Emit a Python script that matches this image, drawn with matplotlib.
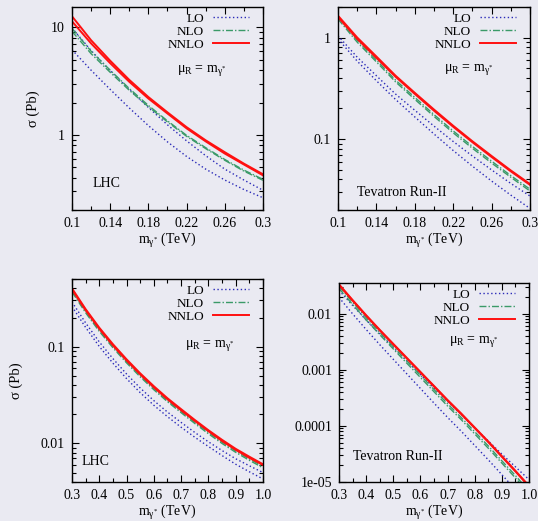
import matplotlib
matplotlib.use('Agg')
import matplotlib.pyplot as plt
from matplotlib.ticker import FixedLocator, FixedFormatter, LogLocator, NullFormatter, MultipleLocator

# Data
x_low = [0.10, 0.12, 0.14, 0.16, 0.18, 0.20, 0.22, 0.24, 0.26, 0.28, 0.30]
x_high = [0.30, 0.35, 0.40, 0.45, 0.50, 0.55, 0.60, 0.65, 0.70, 0.75, 0.80, 0.85, 0.90, 0.95, 1.00]

# LHC, low mass
lhc1_lo_a = [9.9, 6.1, 3.95, 2.65, 1.8, 1.24, 0.88, 0.64, 0.48, 0.38, 0.305]
lhc1_lo_b = [6.2, 4.0, 2.65, 1.78, 1.22, 0.86, 0.63, 0.48, 0.38, 0.31, 0.26]
lhc1_nlo_a = [9.8, 6.0, 4.0, 2.7, 1.88, 1.35, 0.99, 0.76, 0.59, 0.47, 0.385]
lhc1_nlo_b = [9.2, 5.7, 3.82, 2.6, 1.83, 1.32, 0.97, 0.745, 0.58, 0.46, 0.378]
lhc1_nnlo_a = [12.7, 7.6, 4.9, 3.25, 2.25, 1.62, 1.18, 0.89, 0.69, 0.54, 0.43]
lhc1_nnlo_b = [11.4, 7.1, 4.65, 3.12, 2.18, 1.58, 1.15, 0.87, 0.67, 0.53, 0.42]

# Tevatron, low mass
tev1_lo_a = [1.04, 0.64, 0.42, 0.277, 0.192, 0.134, 0.0945, 0.068, 0.0496, 0.0365, 0.0274]
tev1_lo_b = [0.97, 0.585, 0.375, 0.245, 0.165, 0.112, 0.077, 0.054, 0.0385, 0.028, 0.0207]
tev1_nlo_a = [1.58, 0.94, 0.60, 0.38, 0.257, 0.174, 0.12, 0.0845, 0.0605, 0.0436, 0.032]
tev1_nlo_b = [1.52, 0.90, 0.575, 0.365, 0.246, 0.167, 0.115, 0.081, 0.058, 0.042, 0.0307]
tev1_nnlo_a = [1.64, 1.0, 0.65, 0.42, 0.285, 0.195, 0.135, 0.095, 0.068, 0.049, 0.036]
tev1_nnlo_b = [1.59, 0.97, 0.63, 0.41, 0.278, 0.19, 0.132, 0.093, 0.0665, 0.048, 0.0353]

# LHC, high mass
lhc2_lo_a = [0.29, 0.176, 0.112, 0.0753, 0.0522, 0.0374, 0.0277, 0.0211, 0.0165, 0.013, 0.0104, 0.00845, 0.00695, 0.00588, 0.005]
lhc2_lo_b = [0.26, 0.158, 0.1005, 0.0675, 0.0468, 0.0335, 0.0248, 0.0189, 0.0147, 0.0116, 0.0093, 0.0075, 0.0061, 0.0051, 0.0043]
lhc2_nlo_a = [0.38, 0.232, 0.149, 0.1007, 0.0703, 0.0504, 0.0371, 0.0278, 0.0215, 0.0166, 0.013, 0.01035, 0.00836, 0.00694, 0.0058]
lhc2_nlo_b = [0.368, 0.224, 0.144, 0.0975, 0.068, 0.0488, 0.0359, 0.027, 0.0208, 0.0161, 0.0126, 0.01, 0.0081, 0.0067, 0.0056]
lhc2_nnlo_a = [0.40, 0.244, 0.157, 0.106, 0.074, 0.053, 0.039, 0.0293, 0.0226, 0.0175, 0.0137, 0.0109, 0.0088, 0.0073, 0.0061]
lhc2_nnlo_b = [0.39, 0.238, 0.153, 0.103, 0.072, 0.0517, 0.038, 0.0286, 0.022, 0.0171, 0.0134, 0.0106, 0.0086, 0.0071, 0.006]

# Tevatron, high mass
tev2_lo_a = [0.0259, 0.01396, 0.00767, 0.00432, 0.00248, 0.00143, 8.22e-4, 4.73e-4, 2.72e-4, 1.60e-4, 9.2e-5, 5.37e-5, 3.13e-5, 1.86e-5, 1.10e-5]
tev2_lo_b = [0.0193, 0.00989, 0.00519, 0.00279, 0.00153, 8.41e-4, 4.62e-4, 2.54e-4, 1.41e-4, 8.04e-5, 4.47e-5, 2.48e-5, 1.35e-5, 7.3e-6, 3.9e-6]
tev2_nlo_a = [0.0305, 0.0159, 0.00845, 0.0046, 0.00256, 0.00143, 7.96e-4, 4.44e-4, 2.47e-4, 1.41e-4, 7.85e-5, 4.38e-5, 2.38e-5, 1.30e-5, 6.9e-6]
tev2_nlo_b = [0.0279, 0.0145, 0.0077, 0.0042, 0.00234, 0.0013, 7.26e-4, 4.05e-4, 2.25e-4, 1.29e-4, 7.16e-5, 3.99e-5, 2.17e-5, 1.18e-5, 6.3e-6]
tev2_nnlo_a = [0.0331, 0.0174, 0.00933, 0.00513, 0.00288, 0.00162, 9.12e-4, 5.13e-4, 2.88e-4, 1.66e-4, 9.33e-5, 5.25e-5, 2.88e-5, 1.58e-5, 8.5e-6]
tev2_nnlo_b = [0.0323, 0.017, 0.00912, 0.00501, 0.00281, 0.00158, 8.91e-4, 5.01e-4, 2.81e-4, 1.62e-4, 9.1e-5, 5.13e-5, 2.81e-5, 1.54e-5, 8.3e-6]

low_xticks = [0.1, 0.14, 0.18, 0.22, 0.26, 0.3]
low_xlabels = ['0.1', '0.14', '0.18', '0.22', '0.26', '0.3']
high_xticks = [0.3, 0.4, 0.5, 0.6, 0.7, 0.8, 0.9, 1.0]
high_xlabels = ['0.3', '0.4', '0.5', '0.6', '0.7', '0.8', '0.9', '1.0']

bg = '#eaeaf2'
c_lo = '#2a2ab8'
c_nlo = '#3a9a68'
c_nnlo = '#ff1010'

plt.rcParams['font.family'] = 'Liberation Serif'
plt.rcParams['font.size'] = 10
plt.rcParams['mathtext.fontset'] = 'custom'
plt.rcParams['mathtext.rm'] = 'Liberation Serif'
plt.rcParams['mathtext.it'] = 'Liberation Serif:italic'

fig = plt.figure(figsize=(5.38, 5.21), dpi=100, facecolor=bg)

panels = [
    # rect, x, curves, ylim, yticks, ylabels, xticks, xlabels, minor x, site, site pos, mu pos, ylabel pad
    ([0.1338, 0.597, 0.355, 0.3896], x_low,
     (lhc1_lo_a, lhc1_lo_b, lhc1_nlo_a, lhc1_nlo_b, lhc1_nnlo_a, lhc1_nnlo_b),
     (0.2, 15.5), [1, 10], ['1', '10'], low_xticks, low_xlabels, 0.02,
     'LHC', (0.105, 0.115), (0.55, 0.68), 8),
    ([0.6283, 0.597, 0.3569, 0.3896], x_low,
     (tev1_lo_a, tev1_lo_b, tev1_nlo_a, tev1_nlo_b, tev1_nnlo_a, tev1_nnlo_b),
     (0.02, 2.0), [0.1, 1], ['0.1', '1'], low_xticks, low_xlabels, 0.02,
     'Tevatron Run-II', (0.10, 0.068), (0.55, 0.685), None),
    ([0.1338, 0.0749, 0.355, 0.3896], x_high,
     (lhc2_lo_a, lhc2_lo_b, lhc2_nlo_a, lhc2_nlo_b, lhc2_nnlo_a, lhc2_nnlo_b),
     (0.004, 0.5), [0.01, 0.1], ['0.01', '0.1'], high_xticks, high_xlabels, 0.05,
     'LHC', (0.05, 0.082), (0.59, 0.665), 13),
    ([0.6301, 0.0749, 0.3532, 0.382], x_high,
     (tev2_lo_a, tev2_lo_b, tev2_nlo_a, tev2_nlo_b, tev2_nnlo_a, tev2_nnlo_b),
     (1e-5, 0.035), [1e-5, 1e-4, 1e-3, 1e-2], ['1e-05', '0.0001', '0.001', '0.01'],
     high_xticks, high_xlabels, 0.05,
     'Tevatron Run-II', (0.075, 0.11), (0.58, 0.70), None),
]

for (rect, xs, curves, ylim, yt, yl, xt, xl, xminor, site, site_pos, mu_pos, ypad) in panels:
    ax = fig.add_axes(rect)
    ax.set_facecolor(bg)
    lo_a, lo_b, nlo_a, nlo_b, nnlo_a, nnlo_b = curves
    ax.plot(xs, lo_a, color=c_lo, lw=1.0, ls=(0, (1, 1.8)), label='LO')
    ax.plot(xs, lo_b, color=c_lo, lw=1.0, ls=(0, (1, 1.8)))
    ax.plot(xs, nlo_a, color=c_nlo, lw=1.0, ls=(0, (5, 1.5, 1, 1.5)), label='NLO')
    ax.plot(xs, nlo_b, color=c_nlo, lw=1.0, ls=(0, (5, 1.5, 1, 1.5)))
    ax.plot(xs, nnlo_a, color=c_nnlo, lw=1.4, label='NNLO')
    ax.plot(xs, nnlo_b, color=c_nnlo, lw=1.4)

    ax.set_yscale('log')
    ax.set_xlim(xs[0], xs[-1])
    ax.set_ylim(*ylim)
    ax.yaxis.set_major_locator(FixedLocator(yt))
    ax.yaxis.set_major_formatter(FixedFormatter(yl))
    ax.yaxis.set_minor_locator(LogLocator(base=10, subs=range(2, 10)))
    ax.yaxis.set_minor_formatter(NullFormatter())
    ax.xaxis.set_major_locator(FixedLocator(xt))
    ax.xaxis.set_major_formatter(FixedFormatter(xl))
    ax.xaxis.set_minor_locator(MultipleLocator(xminor))

    ax.tick_params(which='both', direction='in', top=True, right=True, color='black', labelsize=10, pad=5)
    ax.tick_params(which='major', length=5, width=0.8)
    ax.tick_params(which='minor', length=3, width=0.8)
    for s in ax.spines.values():
        s.set_color('black')
        s.set_linewidth(1.0)

    ax.set_xlabel(r'm$_{\mathrm{γ}^{*}}$ (TeV)', labelpad=1, fontsize=10)
    if ypad is not None:
        ax.set_ylabel('σ (Pb)', labelpad=ypad, fontsize=10.5)

    ax.legend(loc='upper right', bbox_to_anchor=(0.94, 0.985), frameon=False, markerfirst=False,
              handlelength=2.7, handletextpad=0.7, labelspacing=0.05, borderaxespad=0.0,
              borderpad=0.2, fontsize=9.5)
    ax.text(mu_pos[0], mu_pos[1], r'$\mathrm{μ_R}$ = m$_{\mathrm{γ}^{*}}$', transform=ax.transAxes, fontsize=10)
    ax.text(site_pos[0], site_pos[1], site, transform=ax.transAxes, fontsize=10)

fig.savefig('out.png', dpi=100, facecolor=bg)
